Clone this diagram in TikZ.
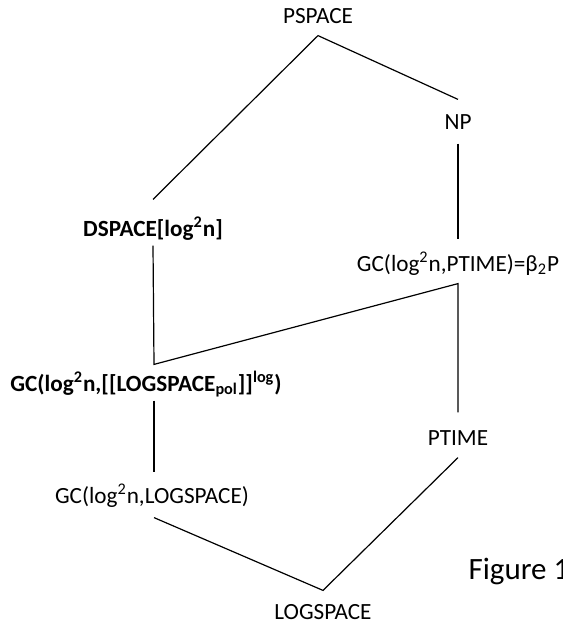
\documentclass[tikz,border=0pt]{standalone}
\usepackage{fontspec}
\setmainfont{Carlito}
\usepackage{tikz}

\begin{document}
\begin{tikzpicture}[x=0.5pt,y=-0.5pt,semithick]
  \tikzstyle{cls}=[anchor=base,inner sep=0pt,font=\fontsize{11.6}{14}\selectfont]
  \useasboundingbox (0,0) rectangle (563,628);

  \node[cls, text depth=6pt]                      (ps)  at (318,23)  {PSPACE};
  \node[cls, text height=14.5pt, text depth=7pt]  (np)  at (458,129) {NP};
  \node[cls, text height=18pt, text depth=4.5pt]  (dsp) at (153,236) {\bfseries DSPACE[log\textsuperscript{2}n]};
  \node[cls, text height=15.5pt, text depth=6pt]  (gcp) at (458,271) {GC(log\textsuperscript{2}n,PTIME)=β\textsubscript{2}P};
  \node[cls, text height=13pt, text depth=4.5pt]  (gcb) at (146,391) {\bfseries GC(log\textsuperscript{2}n,[[LOGSPACE\textsubscript{pol}]]\textsuperscript{log})};
  \node[cls, text height=16pt, text depth=6pt]    (pt)  at (458,445) {PTIME};
  \node[cls, text height=15pt, text depth=7pt]    (gcl) at (152,503) {GC(log\textsuperscript{2}n,LOGSPACE)};
  \node[cls, text height=14pt]                    (ls)  at (323,619) {LOGSPACE};

  \draw (dsp.north) -- (ps.south) -- (np.north);
  \draw (np.south) -- (gcp.north);
  \draw (dsp.south) -- ([xshift=4pt]gcb.north) -- (gcp.south) -- (pt.north);
  \draw ([xshift=4pt]gcb.south) -- ([xshift=1pt]gcl.north);
  \draw ([xshift=1pt]gcl.south) -- (ls.north) -- (pt.south);

  \node[anchor=base west, inner sep=0pt, font=\fontsize{15.5}{18}\selectfont] (fig) at (468,579) {Figure 1};
\end{tikzpicture}
\end{document}
